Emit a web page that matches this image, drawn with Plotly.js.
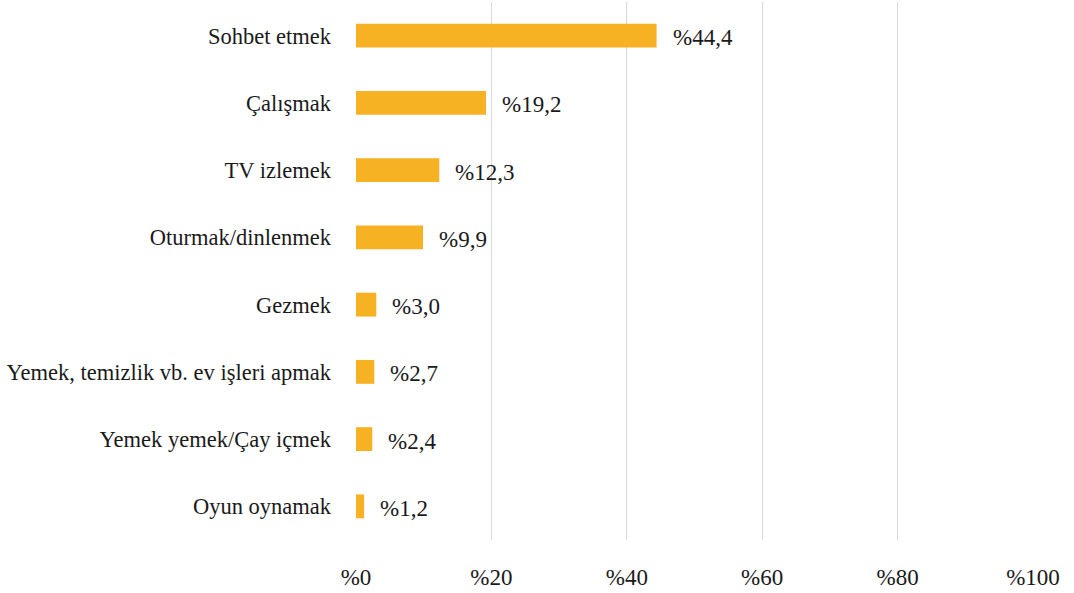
<!DOCTYPE html>
<html>
<head>
<meta charset="utf-8">
<script src="https://cdn.plot.ly/plotly-3.0.1.min.js"></script>
<style>html,body{margin:0;padding:0;background:#fff;}#chart{width:1074px;height:593px;}</style>
</head>
<body>
<div id="chart"></div>
<script>
const categories = ["Sohbet etmek", "Çalışmak", "TV izlemek", "Oturmak/dinlenmek", "Gezmek", "Yemek, temizlik vb. ev işleri apmak", "Yemek yemek/Çay içmek", "Oyun oynamak"];
const values = [44.4, 19.2, 12.3, 9.9, 3.0, 2.7, 2.4, 1.2];
const tickValues = [0, 20, 40, 60, 80, 100];
const tickLabels = ["%0", "%20", "%40", "%60", "%80", "%100"];

const fmt = v => "%" + v.toFixed(1).replace(".", ",");
const FONT = "Liberation Serif";

const trace = {
  type: "bar",
  orientation: "h",
  x: values,
  y: categories,
  width: 0.355,
  marker: {color: "#F7B224"},
  hoverinfo: "none"
};

const annotations = values.map((v, i) => ({
  x: v, y: categories[i], xref: "x", yref: "y",
  text: fmt(v), showarrow: false, xanchor: "left", yanchor: "middle",
  xshift: 14, yshift: -2,
  font: {family: FONT, size: 23, color: "#1a1a1a"}
}));

const layout = {
  width: 1074, height: 593,
  margin: {l: 355.5, r: 41, t: 2, b: 53},
  paper_bgcolor: "#fff", plot_bgcolor: "#fff",
  showlegend: false,
  font: {family: FONT, size: 22.5, color: "#1a1a1a"},
  xaxis: {
    range: [0, 100], tickvals: tickValues, ticktext: tickLabels,
    showgrid: true, gridcolor: "#d9d9d9", gridwidth: 1,
    zeroline: false, showline: false, ticks: "",
    ticklabelstandoff: 21, fixedrange: true,
    tickfont: {family: FONT, size: 23}
  },
  yaxis: {
    autorange: "reversed", type: "category",
    showgrid: false, zeroline: false, showline: false, ticks: "",
    ticklabelstandoff: 24, fixedrange: true
  },
  annotations: annotations
};

Plotly.newPlot("chart", [trace], layout, {displayModeBar: false, staticPlot: true});
</script>
</body>
</html>
